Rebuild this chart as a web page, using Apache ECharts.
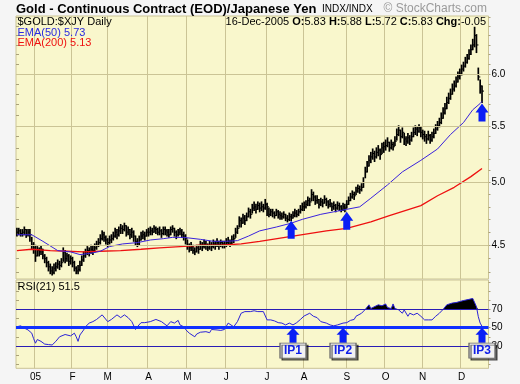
<!DOCTYPE html>
<html><head><meta charset="utf-8">
<script src="https://cdn.jsdelivr.net/npm/echarts@6/dist/echarts.min.js"></script>
<style>html,body{margin:0;padding:0;background:#f5f5f5;}#c{width:520px;height:384px;}</style>
</head><body><div id="c"></div>
<script>
// ---------- DATA ----------
const holidays = ['2004-12-24','2005-01-17','2005-02-21','2005-03-25','2005-05-30','2005-07-04','2005-09-05','2005-10-10','2005-11-24'];
const firstDay = [2004, 11, 17];
const lastDay = [2005, 11, 16];
const emptyTail = 3;
const monthLetters = ['05','F','M','A','M','J','J','A','S','O','N','D'];

const closes = [
 4.60,4.61,4.59,4.60,4.62,4.58,4.60,4.58,4.50,4.48,
 4.42,4.46,4.45,4.47,4.42,4.40,4.37,4.34,4.31,4.30,4.33,4.34,4.36,4.35,4.37,4.45,4.40,4.42,4.38,4.40,
 4.37,4.33,4.31,4.32,4.35,4.39,4.42,4.44,4.46,4.45,4.47,4.46,4.48,4.50,4.52,4.55,4.58,4.56,4.54,
 4.52,4.54,4.55,4.57,4.60,4.58,4.61,4.63,4.62,4.65,4.60,4.62,4.58,4.60,4.57,4.53,4.51,4.54,4.57,4.58,4.57,4.60,
 4.60,4.61,4.60,4.63,4.62,4.60,4.61,4.59,4.62,4.61,4.60,4.58,4.62,4.63,4.60,4.58,4.60,4.61,4.58,4.57,4.55,
 4.50,4.48,4.49,4.46,4.45,4.48,4.47,4.50,4.49,4.51,4.50,4.48,4.50,4.49,4.51,4.50,4.52,4.50,4.52,4.51,4.50,
 4.52,4.53,4.51,4.54,4.55,4.60,4.63,4.69,4.67,4.71,4.69,4.72,4.76,4.74,4.79,4.80,4.78,4.81,4.79,4.80,4.79,4.82,
 4.80,4.74,4.76,4.75,4.73,4.76,4.74,4.73,4.72,4.74,4.71,4.70,4.72,4.71,4.73,4.75,4.74,4.76,4.78,4.80,
 4.80,4.82,4.85,4.84,4.90,4.88,4.85,4.86,4.82,4.84,4.83,4.86,4.84,4.82,4.83,4.80,4.81,4.79,4.81,4.80,4.78,4.80,4.79,
 4.82,4.85,4.88,4.90,4.89,4.93,4.95,4.94,4.96,5.00,5.09,5.14,5.19,5.22,5.25,5.22,5.26,5.28,5.24,5.30,5.31,
 5.32,5.35,5.30,5.33,5.31,5.36,5.42,5.46,5.40,5.44,5.38,5.36,5.39,5.37,5.40,5.44,5.47,5.45,5.48,5.44,
 5.42,5.40,5.38,5.41,5.37,5.40,5.43,5.47,5.50,5.53,5.57,5.62,5.66,5.72,5.76,5.80,5.85,5.88,5.92,5.97,6.00,
 6.05,6.08,6.12,6.16,6.20,6.25,6.30,6.40,6.30,5.97,5.88,5.83
];
const highs = [
 4.63,4.63,4.62,4.62,4.64,4.62,4.62,4.62,4.56,4.52,
 4.50,4.49,4.48,4.49,4.47,4.43,4.41,4.38,4.36,4.34,4.36,4.37,4.39,4.38,4.40,4.48,4.46,4.44,4.43,4.42,
 4.41,4.38,4.34,4.35,4.38,4.42,4.45,4.47,4.49,4.48,4.50,4.49,4.51,4.53,4.55,4.58,4.61,4.60,4.57,
 4.55,4.57,4.58,4.60,4.63,4.62,4.64,4.66,4.65,4.67,4.65,4.64,4.62,4.63,4.61,4.57,4.55,4.57,4.60,4.61,4.60,4.62,
 4.63,4.64,4.63,4.65,4.64,4.63,4.64,4.62,4.64,4.64,4.62,4.62,4.64,4.65,4.63,4.61,4.62,4.63,4.62,4.60,4.58,
 4.54,4.51,4.52,4.50,4.48,4.50,4.50,4.53,4.52,4.54,4.53,4.51,4.53,4.52,4.54,4.53,4.55,4.53,4.54,4.53,4.53,
 4.55,4.56,4.54,4.57,4.58,4.63,4.65,4.72,4.71,4.74,4.73,4.75,4.79,4.78,4.82,4.84,4.82,4.84,4.83,4.84,4.82,4.86,
 4.83,4.79,4.78,4.78,4.76,4.78,4.77,4.76,4.75,4.76,4.74,4.73,4.75,4.74,4.76,4.78,4.77,4.78,4.81,4.83,
 4.84,4.85,4.88,4.87,4.94,4.92,4.89,4.89,4.86,4.87,4.86,4.89,4.87,4.85,4.86,4.83,4.84,4.82,4.84,4.83,4.81,4.83,4.82,
 4.85,4.88,4.91,4.93,4.92,4.96,4.98,4.97,4.99,5.04,5.13,5.18,5.23,5.26,5.29,5.27,5.30,5.32,5.29,5.34,5.35,
 5.37,5.39,5.35,5.37,5.35,5.40,5.47,5.50,5.46,5.48,5.43,5.40,5.43,5.41,5.44,5.48,5.50,5.49,5.51,5.49,
 5.46,5.45,5.42,5.45,5.42,5.44,5.47,5.51,5.54,5.57,5.62,5.67,5.71,5.77,5.81,5.85,5.90,5.93,5.97,6.02,6.05,
 6.09,6.12,6.17,6.20,6.25,6.30,6.36,6.49,6.41,6.06,5.94,5.88
];
const lows = [
 4.57,4.58,4.57,4.57,4.58,4.56,4.57,4.53,4.47,4.44,
 4.38,4.42,4.42,4.43,4.40,4.37,4.34,4.31,4.29,4.28,4.29,4.31,4.33,4.32,4.34,4.38,4.37,4.38,4.35,4.36,
 4.34,4.31,4.29,4.29,4.31,4.35,4.38,4.41,4.43,4.42,4.44,4.43,4.45,4.47,4.49,4.51,4.54,4.53,4.51,
 4.49,4.51,4.52,4.54,4.56,4.55,4.57,4.59,4.59,4.61,4.57,4.58,4.55,4.56,4.53,4.50,4.49,4.50,4.54,4.55,4.54,4.57,
 4.57,4.58,4.58,4.60,4.59,4.58,4.58,4.56,4.58,4.58,4.57,4.56,4.58,4.60,4.57,4.55,4.57,4.58,4.56,4.54,4.51,
 4.47,4.45,4.46,4.44,4.43,4.45,4.44,4.47,4.46,4.48,4.47,4.46,4.47,4.46,4.48,4.47,4.49,4.47,4.49,4.48,4.48,
 4.49,4.50,4.49,4.51,4.52,4.56,4.59,4.64,4.64,4.67,4.66,4.69,4.72,4.71,4.75,4.77,4.75,4.78,4.76,4.77,4.76,4.78,
 4.73,4.72,4.73,4.72,4.71,4.73,4.71,4.70,4.70,4.71,4.69,4.68,4.69,4.69,4.71,4.72,4.72,4.73,4.75,4.77,
 4.77,4.79,4.81,4.81,4.85,4.85,4.82,4.83,4.79,4.81,4.80,4.83,4.81,4.79,4.80,4.77,4.78,4.76,4.78,4.77,4.76,4.77,4.76,
 4.79,4.82,4.85,4.87,4.86,4.90,4.92,4.91,4.93,4.96,5.04,5.09,5.14,5.17,5.20,5.18,5.21,5.23,5.20,5.25,5.26,
 5.28,5.31,5.27,5.29,5.28,5.32,5.37,5.41,5.35,5.39,5.33,5.32,5.34,5.33,5.36,5.40,5.42,5.41,5.44,5.40,
 5.38,5.36,5.34,5.37,5.34,5.36,5.39,5.43,5.46,5.49,5.52,5.57,5.61,5.66,5.71,5.75,5.80,5.83,5.87,5.92,5.95,
 5.99,6.03,6.07,6.11,6.15,6.20,6.25,6.28,6.22,5.94,5.81,5.72
];
// EMA values at sample days: [dayIndex, value]
const ema50 = [[0,4.58],[8,4.58],[14,4.53],[22,4.46],[29,4.45],[34,4.43],[40,4.44],[45,4.455],[50,4.49],[57,4.51],[65,4.52],[72,4.54],[79,4.55],[84,4.56],[90,4.56],[99,4.545],[106,4.53],[113,4.53],[119,4.535],[125,4.57],[131,4.61],[140,4.64],[148,4.67],[154,4.70],[164,4.74],[171,4.76],[178,4.78],[185,4.80],[191,4.87],[200,4.98],[208,5.09],[218,5.19],[227,5.29],[234,5.42],[241,5.53],[246,5.65],[250,5.71],[251,5.73]];
const ema200 = [[0,4.46],[8,4.47],[18,4.46],[27,4.455],[36,4.45],[45,4.455],[56,4.46],[67,4.47],[77,4.48],[88,4.49],[99,4.50],[110,4.50],[121,4.51],[131,4.53],[149,4.57],[167,4.61],[178,4.63],[191,4.68],[201,4.73],[218,4.81],[227,4.89],[236,4.96],[245,5.05],[251,5.12]];
const rsi21 = [[0,51],[2,52],[4,49.5],[6,47.5],[8,44],[9,38],[10,33],[11,37],[13,35],[15,32],[17,31.5],[19,31],[20,30],[21,35],[23,40],[24,42],[26,42.5],[27,44],[29,41],[31,44],[32,40],[33,35],[34,42],[36,47.5],[37,51],[39,55],[41,56.6],[43,59],[46,64],[47,64.7],[49,56.6],[51,59],[52,58],[54,64],[56,61],[58,64],[60,61],[61,60],[62,56.6],[64,48],[65,51],[67,55.5],[69,55.5],[72,56.6],[75,59],[78,56.6],[79,58],[81,52],[83,56.6],[85,55],[87,58],[88,53],[90,51],[91,48],[93,44],[96,40],[97,43],[99,45],[102,45.6],[104,44.5],[105,48],[106,46],[108,47.5],[110,47],[112,48],[114,55],[115,54],[117,51],[118,51],[119,56.6],[121,65.8],[123,67.6],[124,69.5],[126,67.6],[128,68.5],[130,67.6],[131,65.8],[133,67.6],[135,58.5],[137,58.5],[139,57.4],[141,55.5],[143,55],[145,53],[146,51],[147,55],[149,53],[151,55.5],[153,59],[155,62.8],[156,62.5],[158,65.8],[160,62.5],[162,61],[164,56.6],[165,58.5],[167,55],[169,53],[171,52],[173,53],[174,51],[176,55],[178,55.5],[180,58],[182,59],[183,62.5],[186,65.8],[188,70],[190,75],[191,71],[192,72.7],[195,75],[197,74],[199,76],[200,72],[202,71],[203,76],[204,71],[206,69.5],[208,65.8],[209,69.5],[211,62.5],[212,65.8],[214,64],[216,65.8],[218,62.5],[220,58.5],[222,58.5],[224,58.5],[226,62.5],[228,65.8],[230,70],[232,75],[233,76],[235,77],[237,77.5],[239,78.6],[241,79.7],[242,80.5],[244,81],[246,82],[247,82],[248,73],[249,62],[250,55],[251,51.5]];
const priceLabels = [4.5, 5.0, 5.5, 6.0];
const priceMinorTicks = [4.3,4.4,4.5,4.6,4.7,4.8,4.9,5.0,5.1,5.2,5.3,5.4,5.5,5.6,5.7,5.8,5.9,6.0,6.1,6.2,6.3,6.4,6.5,6.6];
const rsiLabels = [30, 50, 70];
const rsiMinorTicks = [10,20,30,40,50,60,70,80,90,100];
const priceArrows = [[148,4.69,'IP1'],[178,4.76,'IP2'],[251,5.71,'IP3']];
const rsiArrows = [[149,'IP1'],[176,'IP2'],[251,'IP3']];
const header = {symbol:'$GOLD:$XJY Daily', date:'16-Dec-2005', o:'5.83', h:'5.88', l:'5.72', c:'5.83', chg:'-0.05', ema50:'5.73', ema200:'5.13', rsi:'51.5'};

// ---------- BUILD ----------
const pad = n => (n < 10 ? '0' : '') + n;
const dates = [];
for (let t = Date.UTC(...firstDay); t <= Date.UTC(...lastDay); t += 86400000) {
  const d = new Date(t), wd = d.getUTCDay();
  const s = d.getUTCFullYear() + '-' + pad(d.getUTCMonth() + 1) + '-' + pad(d.getUTCDate());
  if (wd !== 0 && wd !== 6 && holidays.indexOf(s) < 0) dates.push(s);
}
for (let k = 0; k < emptyTail; k++) dates.push('');
const monthStart = new Set();
for (let i = 1; i < dates.length; i++) {
  if (dates[i] && dates[i - 1] && dates[i].slice(5, 7) !== dates[i - 1].slice(5, 7)) monthStart.add(i);
}
const isMonthStart = (idx) => monthStart.has(idx);
const monthLabel = (val) => val ? monthLetters[+val.slice(5, 7) - 1] : '';

const ohlc = closes.map((c, i) => [i, lows[i], highs[i], c]);
const rsiFill = rsi21.map(p => [p[0], Math.max(p[1], 70)]);

const FONT = '"Liberation Sans", Arial, sans-serif';
const BG = '#f9f7cc', GL = '#cbc495', TK = '#aaa27a';
const BLUE = '#0a1ef5';
const arrowBig = 'path://M6.5,0L13,9L10,9L10,18L3,18L3,9L0,9Z';
const arrowSmall = 'path://M6.5,0L13,7L10,7L10,15L3,15L3,7L0,7Z';

const option = {
  backgroundColor: '#f5f5f5',
  animation: false,
  textStyle: { fontFamily: FONT },
  grid: [
    { left: 16, top: 16, width: 472.5, height: 263, show: true, backgroundColor: BG, borderColor: GL, borderWidth: 1 },
    { left: 16, top: 280, width: 472.5, height: 88.3, show: true, backgroundColor: BG, borderColor: GL, borderWidth: 1 }
  ],
  xAxis: [
    { type: 'category', gridIndex: 0, data: dates, boundaryGap: true, axisLine: { show: false }, axisTick: { show: false },
      axisLabel: { show: false }, splitLine: { show: true, interval: isMonthStart, lineStyle: { color: GL, width: 1 } } },
    { type: 'category', gridIndex: 1, data: dates, boundaryGap: true, axisLine: { show: false }, axisTick: { show: false },
      axisLabel: { show: true, interval: isMonthStart, formatter: monthLabel, fontSize: 10, color: '#000', margin: 4, fontFamily: FONT },
      splitLine: { show: true, interval: isMonthStart, lineStyle: { color: GL, width: 1 } } }
  ],
  yAxis: [
    { type: 'log', gridIndex: 0, position: 'right', min: 4.252, max: 6.614, axisLine: { show: false }, splitLine: { show: false },
      axisTick: { show: true, customValues: priceMinorTicks, length: 2, lineStyle: { color: TK } },
      axisLabel: { show: true, customValues: priceLabels, formatter: v => Number(v).toFixed(1), fontSize: 10, color: '#000', margin: 3, fontFamily: FONT } },
    { type: 'log', gridIndex: 0, position: 'left', min: 4.252, max: 6.614, axisLine: { show: false }, splitLine: { show: false },
      axisTick: { show: true, inside: true, customValues: priceMinorTicks, length: 3, lineStyle: { color: TK } },
      axisLabel: { show: false } },
    { type: 'value', gridIndex: 1, position: 'right', min: 5.5, max: 102.2, axisLine: { show: false }, splitLine: { show: false },
      axisTick: { show: true, customValues: rsiMinorTicks, length: 2, lineStyle: { color: TK } },
      axisLabel: { show: true, customValues: rsiLabels, fontSize: 10, color: '#000', margin: 3, fontFamily: FONT } },
    { type: 'value', gridIndex: 1, position: 'left', min: 5.5, max: 102.2, axisLine: { show: false }, splitLine: { show: false },
      axisTick: { show: true, inside: true, customValues: rsiMinorTicks, length: 3, lineStyle: { color: TK } },
      axisLabel: { show: false } }
  ],
  series: [
    { name: 'priceGrid', type: 'line', xAxisIndex: 0, yAxisIndex: 0, data: [], z: 1, silent: true,
      markLine: { silent: true, symbol: 'none', label: { show: false }, lineStyle: { color: GL, width: 1, type: 'solid' },
        data: priceLabels.map(v => ({ yAxis: v })) } },
    { name: 'price', type: 'custom', xAxisIndex: 0, yAxisIndex: 0, z: 3, data: ohlc, encode: { x: 0, y: [1, 2, 3] },
      renderItem: (params, api) => {
        const x = api.value(0);
        const lo = api.coord([x, api.value(1)]), hi = api.coord([x, api.value(2)]), cl = api.coord([x, api.value(3)]);
        return { type: 'group', children: [
          { type: 'line', shape: { x1: lo[0], y1: lo[1] + 0.5, x2: hi[0], y2: hi[1] - 0.5 }, style: { stroke: '#000', lineWidth: 1.7 } },
          { type: 'line', shape: { x1: cl[0], y1: cl[1], x2: cl[0] + 2, y2: cl[1] }, style: { stroke: '#000', lineWidth: 1 } }
        ] };
      } },
    { name: 'EMA(200)', type: 'line', xAxisIndex: 0, yAxisIndex: 0, z: 4, data: ema200, showSymbol: false, symbol: 'none',
      lineStyle: { color: '#ee1010', width: 1.3 } },
    { name: 'EMA(50)', type: 'line', xAxisIndex: 0, yAxisIndex: 0, z: 4, data: ema50, showSymbol: false, symbol: 'none',
      lineStyle: { color: '#3a22dd', width: 1 },
      markPoint: { symbol: arrowBig, symbolSize: [13, 18], symbolOffset: [0, 9], itemStyle: { color: BLUE }, label: { show: false },
        data: priceArrows.map(a => ({ name: a[2], coord: [a[0], a[1]] })) } },
    { name: 'rsiLevels', type: 'line', xAxisIndex: 1, yAxisIndex: 2, data: [], z: 2, silent: true,
      markLine: { silent: true, symbol: 'none', label: { show: false },
        data: [
          { yAxis: rsiLabels[2], lineStyle: { color: '#2a1db5', width: 1, type: 'solid' } },
          { yAxis: rsiLabels[0], lineStyle: { color: '#2a1db5', width: 1, type: 'solid' } },
          { yAxis: rsiLabels[1], lineStyle: { color: '#1030ff', width: 3, type: 'solid' } }
        ] } },
    { name: 'rsiFill', type: 'line', xAxisIndex: 1, yAxisIndex: 2, z: 3, data: rsiFill, showSymbol: false, symbol: 'none',
      lineStyle: { width: 0 }, areaStyle: { color: '#000', opacity: 1, origin: 70 } },
    { name: 'RSI(21)', type: 'line', xAxisIndex: 1, yAxisIndex: 2, z: 4, data: rsi21, showSymbol: false, symbol: 'none',
      lineStyle: { color: '#2a22d8', width: 1 } },
    { name: 'rsiMarks', type: 'line', xAxisIndex: 1, yAxisIndex: 2, data: [], z: 6, silent: true,
      markPoint: { symbol: arrowSmall, symbolSize: [13, 15], symbolOffset: [0, 7.5], itemStyle: { color: BLUE }, label: { show: false },
        data: rsiArrows.map(a => ({ name: a[1], coord: [a[0], rsiLabels[1]] })) } },
    { name: 'rsiBoxes', type: 'line', xAxisIndex: 1, yAxisIndex: 2, data: [], z: 7, silent: true,
      markPoint: { symbol: 'rect', symbolSize: [26, 15], symbolOffset: [0, 23],
        itemStyle: { color: '#f2f2f2', borderColor: '#666', borderWidth: 1, shadowColor: 'rgba(0,0,0,0.55)', shadowOffsetX: 2, shadowOffsetY: 2, shadowBlur: 0 },
        label: { show: true, position: 'inside', formatter: p => p.name, color: '#1020e8', fontWeight: 'bold', fontSize: 12, fontFamily: FONT },
        data: rsiArrows.map(a => ({ name: a[1], coord: [a[0], rsiLabels[1]] })) } }
  ],
  graphic: [
    { type: 'text', x: 16, y: 9, z: 20, style: { text: 'Gold - Continuous Contract (EOD)/Japanese Yen', font: 'bold 13px ' + FONT, fill: '#000', textVerticalAlign: 'middle', verticalAlign: 'middle' } },
    { type: 'text', x: 322, y: 9.5, z: 20, style: { text: 'INDX/INDX', font: '10px ' + FONT, fill: '#000', textVerticalAlign: 'middle', verticalAlign: 'middle' } },
    { type: 'text', x: 487, y: 9, z: 20, style: { text: '© StockCharts.com', font: '12px ' + FONT, fill: '#9a9a9a', textAlign: 'right', align: 'right', textVerticalAlign: 'middle', verticalAlign: 'middle' } },
    { type: 'text', x: 17.5, y: 22, z: 20, style: { text: header.symbol, font: '11px ' + FONT, fill: '#000', textVerticalAlign: 'middle', verticalAlign: 'middle' } },
    { type: 'text', x: 17.5, y: 32.5, z: 20, style: { text: 'EMA(50) ' + header.ema50, font: '11px ' + FONT, fill: '#2a2ae0', textVerticalAlign: 'middle', verticalAlign: 'middle' } },
    { type: 'text', x: 17.5, y: 42.5, z: 20, style: { text: 'EMA(200) ' + header.ema200, font: '11px ' + FONT, fill: '#ee1010', textVerticalAlign: 'middle', verticalAlign: 'middle' } },
    { type: 'text', x: 486, y: 22, z: 20, style: {
        text: header.date + ' {b|O:}' + header.o + ' {b|H:}' + header.h + ' {b|L:}' + header.l + ' {b|C:}' + header.c + ' {b|Chg:}' + header.chg,
        font: '11px ' + FONT, fill: '#000', textAlign: 'right', align: 'right', textVerticalAlign: 'middle', verticalAlign: 'middle',
        rich: { b: { fontWeight: 'bold', fontSize: 11, fontFamily: FONT, fill: '#000' } } } },
    { type: 'text', x: 17.5, y: 286.5, z: 20, style: { text: 'RSI(21) ' + header.rsi, font: '11px ' + FONT, fill: '#000', textVerticalAlign: 'middle', verticalAlign: 'middle' } }
  ]
};
const chart = echarts.init(document.getElementById('c'), null, { renderer: 'canvas' });
chart.setOption(option);
</script>
</body></html>
